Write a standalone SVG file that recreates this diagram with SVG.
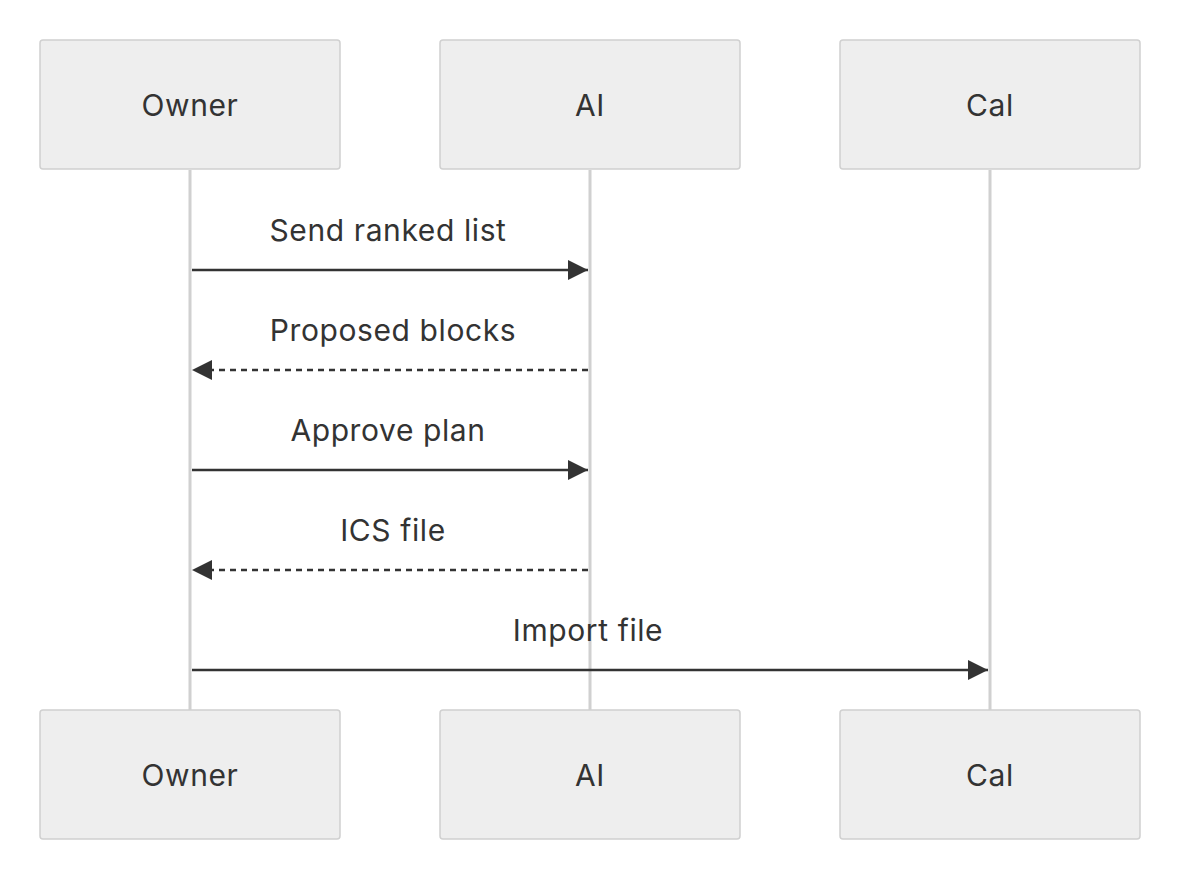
<svg xmlns="http://www.w3.org/2000/svg" width="1180" height="880" viewBox="0 0 1180 880">
<style>
.box{fill:#eeeeee;stroke:#d0d0d0;stroke-width:1.5}
.life{stroke:#d0d0d0;stroke-width:3}
.t{font-family:Inter,"Liberation Sans",sans-serif;font-size:30px;letter-spacing:0.6px;fill:#333;text-anchor:middle}
.m{stroke:#333;stroke-width:2.5;fill:none}
.d{stroke-dasharray:6 5}
</style>
<defs>
<marker id="a" markerWidth="22" markerHeight="20" refX="20" refY="10" orient="auto" markerUnits="userSpaceOnUse"><path d="M0,0 L20,10 L0,20 Z" fill="#333"/></marker>
</defs>
<g id="lifelines">
<line class="life" x1="190" y1="170" x2="190" y2="710"/>
<line class="life" x1="590" y1="170" x2="590" y2="710"/>
<line class="life" x1="990" y1="170" x2="990" y2="710"/>
</g>
<g id="owner-top"><rect class="box" x="40" y="40" width="300" height="129" rx="3"/><text class="t" x="190" y="116">Owner</text></g>
<g id="ai-top"><rect class="box" x="440" y="40" width="300" height="129" rx="3"/><text class="t" x="590" y="116">AI</text></g>
<g id="cal-top"><rect class="box" x="840" y="40" width="300" height="129" rx="3"/><text class="t" x="990" y="116">Cal</text></g>
<g id="owner-bottom"><rect class="box" x="40" y="710" width="300" height="129" rx="3"/><text class="t" x="190" y="786">Owner</text></g>
<g id="ai-bottom"><rect class="box" x="440" y="710" width="300" height="129" rx="3"/><text class="t" x="590" y="786">AI</text></g>
<g id="cal-bottom"><rect class="box" x="840" y="710" width="300" height="129" rx="3"/><text class="t" x="990" y="786">Cal</text></g>
<g id="connectors">
<line class="m" x1="192" y1="270" x2="588" y2="270" marker-end="url(#a)"/>
<text class="t" x="388" y="241">Send ranked list</text>
<line class="m d" x1="588" y1="370" x2="192" y2="370" marker-end="url(#a)"/>
<text class="t" x="393" y="341">Proposed blocks</text>
<line class="m" x1="192" y1="470" x2="588" y2="470" marker-end="url(#a)"/>
<text class="t" x="388" y="441">Approve plan</text>
<line class="m d" x1="588" y1="570" x2="192" y2="570" marker-end="url(#a)"/>
<text class="t" x="393" y="541">ICS file</text>
<line class="m" x1="192" y1="670" x2="988" y2="670" marker-end="url(#a)"/>
<text class="t" x="588" y="641">Import file</text>
</g>
</svg>
